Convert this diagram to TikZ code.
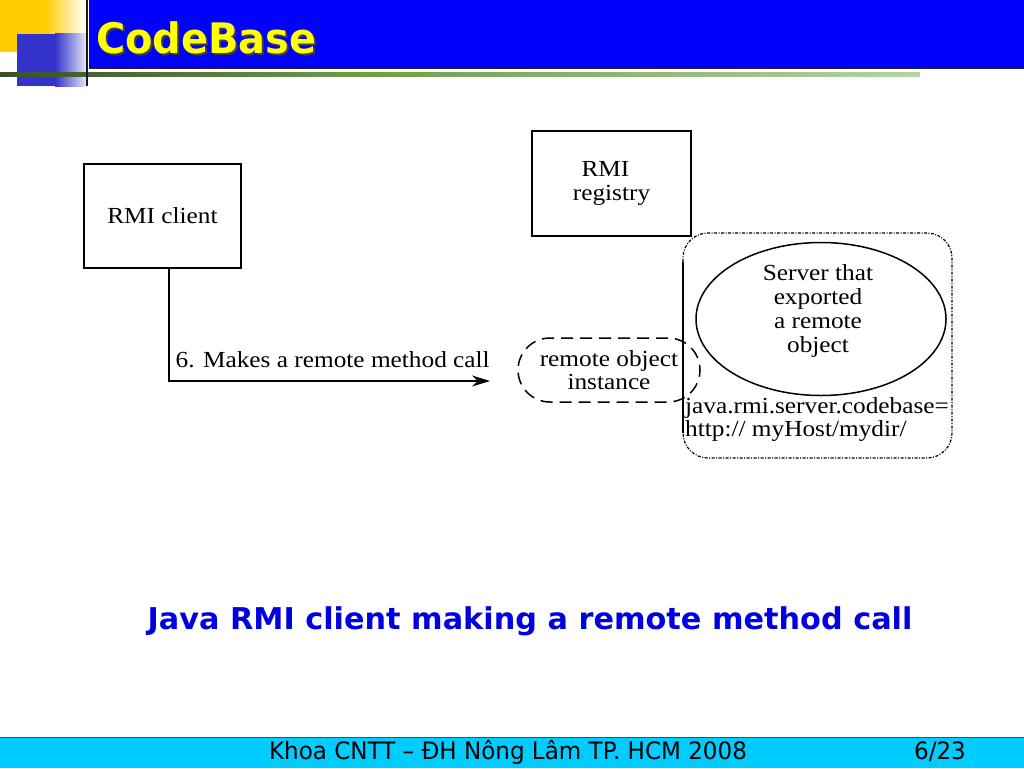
\documentclass[tikz,border=0pt]{standalone}
\usepackage{fontspec}
\setmainfont{Liberation Serif}
\newfontfamily\diagfont[FakeStretch=1.1]{Liberation Serif}
\newfontfamily\titlefont[FakeStretch=0.95]{DejaVu Sans}
\newfontfamily\capfont[FakeStretch=1.01]{DejaVu Sans}
\newfontfamily\footfont[FakeStretch=0.96]{DejaVu Sans}
\usetikzlibrary{shapes.geometric,arrows.meta}
\definecolor{titleblue}{HTML}{0000FF}
\definecolor{titleyellow}{HTML}{FFFF00}
\definecolor{sqyellow}{HTML}{FFCC00}
\definecolor{sqblue}{HTML}{3333CC}
\definecolor{sqpale}{HTML}{E4E4F6}
\definecolor{footcyan}{HTML}{00CCFF}
\definecolor{capblue}{HTML}{0000E0}
\definecolor{lineblack}{HTML}{1A261A}
\definecolor{linegreen}{HTML}{6E9E4A}
\definecolor{linepale}{HTML}{F0FFF0}
\pgfdeclarehorizontalshading{hline}{100bp}{color(0bp)=(lineblack); color(14bp)=(lineblack); color(45bp)=(linegreen); color(100bp)=(linepale)}
\begin{document}
\begin{tikzpicture}[x=1pt,y=-1pt,
  diag/.style={font=\diagfont\fontsize{23}{23.7}\selectfont},
  box/.style={draw, line width=1.5pt, inner sep=0pt, diag},
  conn/.style={draw, line width=1.5pt, -{Stealth[length=18pt,width=11pt]}},
  roibox/.style={draw, line width=1.5pt, dash pattern=on 12pt off 7pt, rounded corners=32pt, inner sep=0pt, align=center, diag},
  srvbox/.style={draw, line width=1.2pt, dash pattern=on 3pt off 1.5pt on 1pt off 1.5pt, rounded corners=25pt, inner sep=0pt},
  objell/.style={draw, ellipse, line width=1.5pt, inner sep=0pt},
  txt/.style={align=center, diag, inner sep=0pt}
]
\useasboundingbox (0,0) rectangle (1024,768);
\fill[white] (0,0) rectangle (1024,768);
% decoration squares
\fill[sqyellow] (0,0) rectangle (45,52);
\shade[left color=sqyellow, right color=white] (45,0) rectangle (86,52);
\fill[sqblue] (17,34) rectangle (55,86);
\shade[left color=sqblue, right color=sqpale] (55,34) rectangle (86,86);
% title bar
\fill[titleblue] (89,0) rectangle (1024,68);
\draw[black!85, line width=1pt] (89,68) -- (1024,68);
\shade[shading=hline] (0,72) rectangle (920,76);
\draw[black!90, line width=2.5pt] (87,0) -- (87,86);
\node[anchor=base west, text=black!75, font=\titlefont\bfseries\fontsize{42}{44}\selectfont] at (94.5,56) {CodeBase};
\node[anchor=base west, text=titleyellow, font=\titlefont\bfseries\fontsize{42}{44}\selectfont] (title) at (92.5,54) {CodeBase};
% diagram
\node[box, minimum width=157pt, minimum height=104pt] (client) at (162.5,216) {RMI client};
\node[box, minimum width=159pt, minimum height=105pt, align=center] (registry) at (611.5,183.5) {\hspace*{-12pt}RMI\\registry};
\node[srvbox, minimum width=269pt, minimum height=225pt] (srv) at (817.5,345.5) {};
\coordinate (srvtop) at (683,262);
\coordinate (srvbot) at (683,433);
\draw[line width=1.3pt] (srvtop) -- (srvbot);
\node[objell, minimum width=250pt, minimum height=153pt] (obj) at (821,319) {};
\node[txt] (objtext) at (818,311) {Server that\\exported\\a remote\\object};
\node[roibox, minimum width=182pt, minimum height=64pt] (roi) at (609,370) {remote object\\instance};
\node[anchor=west, align=left, diag, inner sep=0pt] (codebase) at (685,419.5) {java.rmi.server.codebase=\\http:// myHost/mydir/};
\coordinate (callend) at (490,381);
\draw[conn] ([xshift=6.5pt]client.south) |- node[pos=0.755, above=12pt, diag, inner sep=0pt] (calllabel) {6. Makes a remote method call} (callend);
% caption
\node[text=capblue, font=\capfont\bfseries\fontsize{30}{32}\selectfont] (caption) at (530,621) {Java RMI client making a remote method call};
% footer
\fill[footcyan] (0,737) rectangle (1024,768);
\draw[black!70, line width=1pt] (0,737) -- (1024,737);
\node[font=\footfont\fontsize{24}{26}\selectfont] (foot) at (508,752) {Khoa CNTT – ĐH Nông Lâm TP. HCM 2008};
\node[font=\footfont\fontsize{24}{26}\selectfont] (page) at (940,752) {6/23};
\end{tikzpicture}
\end{document}
